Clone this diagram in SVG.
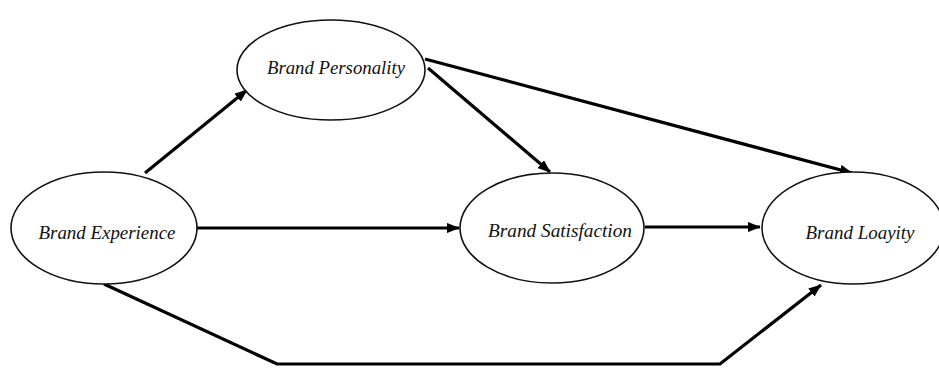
<svg xmlns="http://www.w3.org/2000/svg" width="939" height="369" viewBox="0 0 939 369">
<style>
.node ellipse{fill:#fff;stroke:#111;stroke-width:1.6}
.node text{font-family:"Liberation Serif",serif;font-style:italic;font-size:18px;fill:#111;text-anchor:middle}
.edge{fill:none;stroke:#000;stroke-width:3.2;stroke-linejoin:miter}
</style>
<defs>
<marker id="ah" viewBox="0 0 10 8" refX="9.5" refY="4" markerWidth="4" markerHeight="3.2" orient="auto" markerUnits="strokeWidth">
<path d="M0,0 L10,4 L0,8 Z" fill="#000"/>
</marker>
</defs>
<rect width="939" height="369" fill="#fff"/>
<g id="connectors">
<line class="edge" x1="145" y1="173" x2="247" y2="90" marker-end="url(#ah)"/>
<line class="edge" x1="425" y1="59" x2="852" y2="173" marker-end="url(#ah)"/>
<line class="edge" x1="428" y1="68" x2="550" y2="172" marker-end="url(#ah)"/>
<line class="edge" x1="197" y1="228" x2="459" y2="228" marker-end="url(#ah)"/>
<line class="edge" x1="645" y1="227" x2="760" y2="227" marker-end="url(#ah)"/>
<polyline class="edge" points="104,284 277,364 720,364 821,285" marker-end="url(#ah)"/>
</g>
<g id="brand-personality" class="node">
<ellipse cx="331" cy="70" rx="94" ry="50"/>
<text x="336" y="74" textLength="138" lengthAdjust="spacingAndGlyphs">Brand Personality</text>
</g>
<g id="brand-experience" class="node">
<ellipse cx="104" cy="228" rx="93" ry="56"/>
<text x="107" y="239" textLength="137" lengthAdjust="spacingAndGlyphs">Brand Experience</text>
</g>
<g id="brand-satisfaction" class="node">
<ellipse cx="552" cy="228" rx="92" ry="55"/>
<text x="560" y="237" textLength="144" lengthAdjust="spacingAndGlyphs">Brand Satisfaction</text>
</g>
<g id="brand-loyalty" class="node">
<ellipse cx="853" cy="228" rx="91" ry="56"/>
<text x="860" y="239" textLength="109" lengthAdjust="spacingAndGlyphs">Brand Loayity</text>
</g>
</svg>
